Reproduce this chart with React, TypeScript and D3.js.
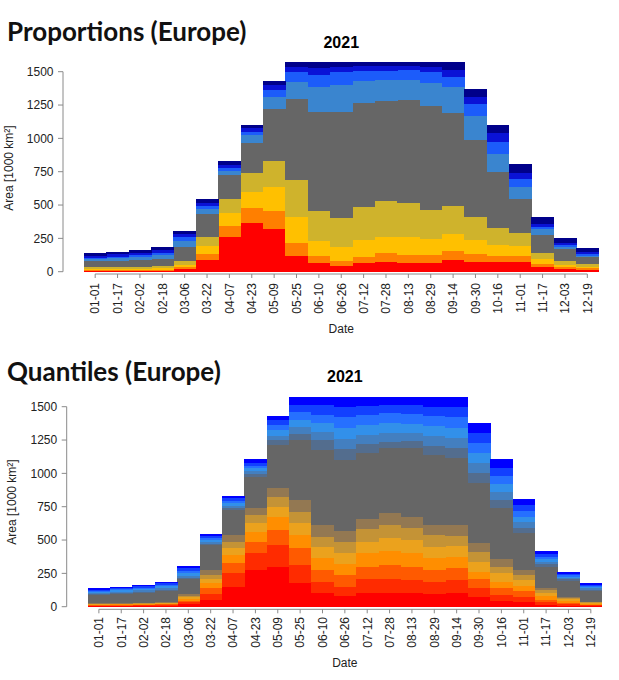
import React from "react";
import * as d3 from "d3";

const dates = ["01-01","01-17","02-02","02-18","03-06","03-22","04-07","04-23","05-09","05-25","06-10","06-26","07-12","07-28","08-13","08-29","09-14","09-30","10-16","11-01","11-17","12-03","12-19"];
const yTicks = [0, 250, 500, 750, 1000, 1250, 1500];
const yearLabel = "2021";

// Proportions (Europe) layers, bottom to top
const propRed    = [6, 5, 6, 7, 20, 87, 262, 367, 317, 117, 62, 45, 62, 75, 67, 67, 87, 75, 75, 75, 37, 17, 12];
const propOrange = [6, 7, 7, 8, 12, 45, 80, 108, 140, 100, 55, 37, 50, 62, 58, 58, 70, 57, 42, 42, 20, 15, 13];
const propAmber  = [8, 8, 9, 10, 20, 60, 100, 125, 175, 190, 115, 105, 125, 125, 132, 117, 125, 105, 83, 75, 35, 18, 12];
const propOlive  = [15, 12, 13, 15, 30, 70, 100, 137, 200, 280, 225, 213, 250, 268, 255, 220, 210, 170, 125, 95, 50, 32, 20];
const propGray   = [45, 48, 50, 58, 100, 170, 183, 226, 388, 605, 743, 800, 775, 752, 775, 780, 695, 580, 420, 255, 133, 85, 50];
const propSteel  = [13, 20, 22, 25, 50, 35, 32, 62, 92, 133, 182, 200, 170, 155, 150, 175, 195, 180, 137, 90, 42, 15, 10];
const propBlue   = [12, 12, 15, 20, 30, 25, 18, 25, 50, 75, 93, 100, 75, 70, 75, 83, 80, 90, 93, 60, 20, 17, 15];
const propDark   = [12, 18, 18, 20, 20, 20, 25, 25, 38, 37, 50, 37, 35, 37, 30, 37, 50, 50, 62, 45, 20, 18, 18];
const propNavy   = [20, 20, 23, 25, 25, 31, 33, 25, 33, 36, 50, 38, 33, 31, 33, 38, 63, 63, 63, 70, 55, 35, 25];
const propColors = ["#ff0000", "#ff7f00", "#ffc000", "#cfb32c", "#666666", "#3a85cf", "#1c5cfa", "#0a12d6", "#00008a"];

// Quantiles (Europe) layers, bottom to top
const q1  = [5, 5, 6, 7, 18, 50, 150, 275, 300, 175, 100, 80, 100, 105, 100, 95, 105, 70, 45, 37, 15, 8, 5];
const q2  = [4, 4, 5, 5, 14, 45, 100, 125, 162, 137, 87, 70, 105, 100, 100, 92, 95, 67, 42, 38, 17, 10, 5];
const q3  = [4, 4, 4, 5, 12, 42, 75, 87, 113, 125, 88, 87, 95, 107, 100, 88, 87, 68, 50, 45, 20, 12, 6];
const q4  = [3, 4, 4, 5, 13, 38, 62, 75, 100, 100, 87, 83, 100, 105, 100, 87, 88, 57, 50, 35, 25, 13, 6];
const q5  = [3, 4, 4, 5, 13, 35, 50, 63, 75, 88, 88, 80, 87, 100, 100, 88, 80, 75, 63, 45, 25, 12, 5];
const q6  = [3, 3, 4, 4, 13, 30, 50, 62, 75, 87, 75, 87, 93, 93, 87, 87, 75, 75, 50, 37, 20, 10, 5];
const q7  = [3, 3, 3, 4, 12, 35, 50, 50, 62, 88, 87, 83, 77, 90, 88, 75, 82, 68, 55, 38, 15, 10, 5];
const q8  = [62, 68, 73, 83, 110, 187, 188, 238, 325, 450, 563, 530, 493, 488, 512, 525, 500, 445, 382, 275, 163, 120, 83];
const q9  = [8, 9, 10, 11, 12, 10, 15, 20, 35, 45, 75, 80, 70, 50, 55, 70, 75, 75, 60, 40, 18, 10, 9];
const q10 = [8, 9, 10, 11, 15, 12, 18, 20, 35, 50, 62, 80, 70, 62, 60, 70, 75, 75, 60, 42, 18, 10, 9];
const q11 = [8, 9, 10, 12, 18, 14, 18, 22, 40, 55, 63, 80, 70, 75, 70, 75, 80, 75, 62, 43, 20, 10, 9];
const q12 = [8, 9, 10, 12, 20, 15, 18, 22, 40, 60, 62, 80, 75, 75, 70, 75, 78, 75, 62, 43, 20, 10, 9];
const q13 = [8, 9, 10, 12, 17, 15, 18, 22, 35, 55, 75, 75, 70, 63, 68, 73, 75, 75, 62, 44, 20, 11, 9];
const q14 = [10, 10, 10, 12, 20, 17, 20, 24, 35, 60, 63, 80, 70, 62, 65, 75, 80, 75, 62, 45, 21, 11, 10];
const quantColors = ["#ff0000", "#ff2b00", "#ff5a00", "#ff8e00", "#eba21d", "#c49336", "#937852", "#666666", "#536d8e", "#437fc0", "#3290ea", "#2670ff", "#1240ff", "#0000ff"];

type Layout = {
  x0: number; x1: number; yBase: number; yTop: number; axisX: number;
  xAxisY: number; labelTop: number; titleY: number; yearY: number;
  dateY: number; ylabX: number; ylabY: number;
};

const axisFont = "'Liberation Sans', Arial, Helvetica, sans-serif";

function StackChart({ title, series, colors, L }: { title: string; series: number[][]; colors: string[]; L: Layout }) {
  const keys = series.map((_, i) => "s" + i);
  const rows = dates.map((d, i) => {
    const r: any = { date: d };
    series.forEach((s, j) => { r["s" + j] = s[i]; });
    return r;
  });
  const stacked = d3.stack<any>().keys(keys)(rows);
  const x = d3.scaleBand<string>().domain(dates).range([L.x0, L.x1]).padding(0);
  const y = d3.scaleLinear().domain([0, 1500]).range([L.yBase, L.yTop]);
  const bw = x.bandwidth();
  const cx = (d: string) => (x(d) as number) + bw / 2;
  const first = cx(dates[0]);
  const last = cx(dates[dates.length - 1]);
  const plotMid = (L.x0 + L.x1) / 2;
  return (
    <g>
      <text x={7} y={L.titleY} fontFamily="Lato, 'Open Sans', sans-serif" fontWeight={700} fontSize={26} fill="#111">{title}</text>
      <text x={plotMid} y={L.yearY} textAnchor="middle" fontFamily={axisFont} fontWeight={700} fontSize={16} fill="#000">{yearLabel}</text>
      <g shapeRendering="crispEdges">
        {stacked.map((layer, li) => (
          <g key={li} fill={colors[li]}>
            {layer.map((seg: any, i: number) => (
              <rect key={i} x={x(seg.data.date)} width={bw + 0.4} y={y(seg[1])} height={Math.max(0, y(seg[0]) - y(seg[1]))} />
            ))}
          </g>
        ))}
      </g>
      {/* y axis */}
      <line x1={L.axisX} x2={L.axisX} y1={y(0)} y2={y(1500)} stroke="#8a8a8a" strokeWidth={1} />
      {yTicks.map((t) => (
        <g key={t}>
          <line x1={L.axisX - 5} x2={L.axisX} y1={y(t)} y2={y(t)} stroke="#8a8a8a" strokeWidth={1} />
          <text x={L.axisX - 9.5} y={y(t)} dy="0.36em" textAnchor="end" fontFamily={axisFont} fontSize={12} fill="#222">{t}</text>
        </g>
      ))}
      <text transform={`translate(${L.ylabX},${L.ylabY}) rotate(-90)`} textAnchor="middle" fontFamily={axisFont} fontSize={12} fill="#222">Area [1000 km²]</text>
      {/* x axis */}
      <line x1={first} x2={last} y1={L.xAxisY} y2={L.xAxisY} stroke="#8a8a8a" strokeWidth={1} />
      {dates.map((d) => (
        <g key={d}>
          <line x1={cx(d)} x2={cx(d)} y1={L.xAxisY} y2={L.xAxisY + 4} stroke="#8a8a8a" strokeWidth={1} />
          <text transform={`translate(${cx(d) + 4.3},${L.labelTop}) rotate(-90)`} textAnchor="end" fontFamily={axisFont} fontSize={12} fill="#222">{d}</text>
        </g>
      ))}
      <text x={plotMid} y={L.dateY} textAnchor="middle" fontFamily={axisFont} fontSize={12} fill="#222">Date</text>
    </g>
  );
}

const topLayout: Layout = { x0: 84, x1: 598.5, yBase: 271.7, yTop: 71.7, axisX: 63, xAxisY: 274, labelTop: 283, titleY: 40.5, yearY: 47.5, dateY: 332.5, ylabX: 12.5, ylabY: 168 };
const botLayout: Layout = { x0: 87.7, x1: 602, yBase: 606.7, yTop: 406.7, axisX: 66.7, xAxisY: 609.3, labelTop: 617, titleY: 380.5, yearY: 382, dateY: 667, ylabX: 16, ylabY: 502 };

export default function App() {
  return (
    <svg width={619} height={680} style={{ position: "absolute", left: 0, top: 0, background: "#fff" }}>
      <rect width={619} height={680} fill="#fff" />
      <StackChart title="Proportions (Europe)" series={[propRed, propOrange, propAmber, propOlive, propGray, propSteel, propBlue, propDark, propNavy]} colors={propColors} L={topLayout} />
      <StackChart title="Quantiles (Europe)" series={[q1, q2, q3, q4, q5, q6, q7, q8, q9, q10, q11, q12, q13, q14]} colors={quantColors} L={botLayout} />
    </svg>
  );
}
